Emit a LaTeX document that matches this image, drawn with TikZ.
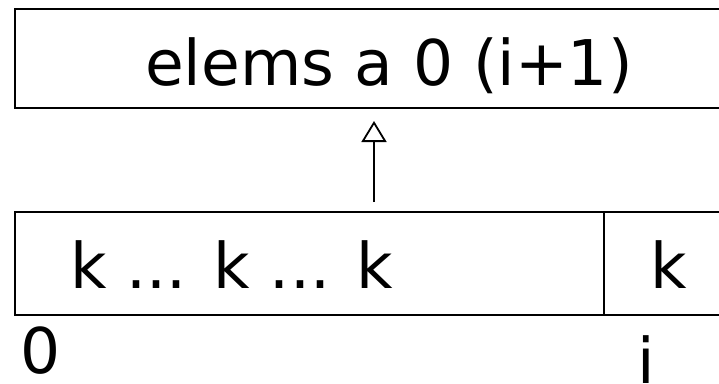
\documentclass[tikz,border=0pt]{standalone}
\usepackage{fontspec}
\setmainfont{DejaVu Sans}
\usetikzlibrary{arrows.meta}
\tikzset{
  box/.style={draw=black, line width=2pt},
  lbl/.style={inner sep=0pt, anchor=base west, font=\fontsize{63}{70}\selectfont},
  conn/.style={line width=1.8pt, -{Triangle[open, length=21pt, width=25pt, line width=1.8pt]}}
}
\begin{document}
\begin{tikzpicture}[x=1pt, y=-1pt]
  \useasboundingbox (0,0) rectangle (719,383);
  \clip (0,0) rectangle (719,383);
  % top box
  \draw[box] (15,9) rectangle (740,108);
  \node[lbl] (top) at (145,85) {elems a 0 (i+1)};
  % bottom box
  \draw[box] (15,212) rectangle (740,315);
  \draw[box] (604,212) -- (604,315);
  \node[lbl] (cells) at (70,288) {k ... k ... k};
  \node[lbl] (last) at (650,288) {k};
  \node[lbl] (zero) at (20,373) {0};
  \node[lbl] (idx) at (637,383) {i};
  % arrow
  \coordinate (from) at (374,202);
  \coordinate (to) at (374,121);
  \draw[conn] (from) -- (to);
\end{tikzpicture}
\end{document}
